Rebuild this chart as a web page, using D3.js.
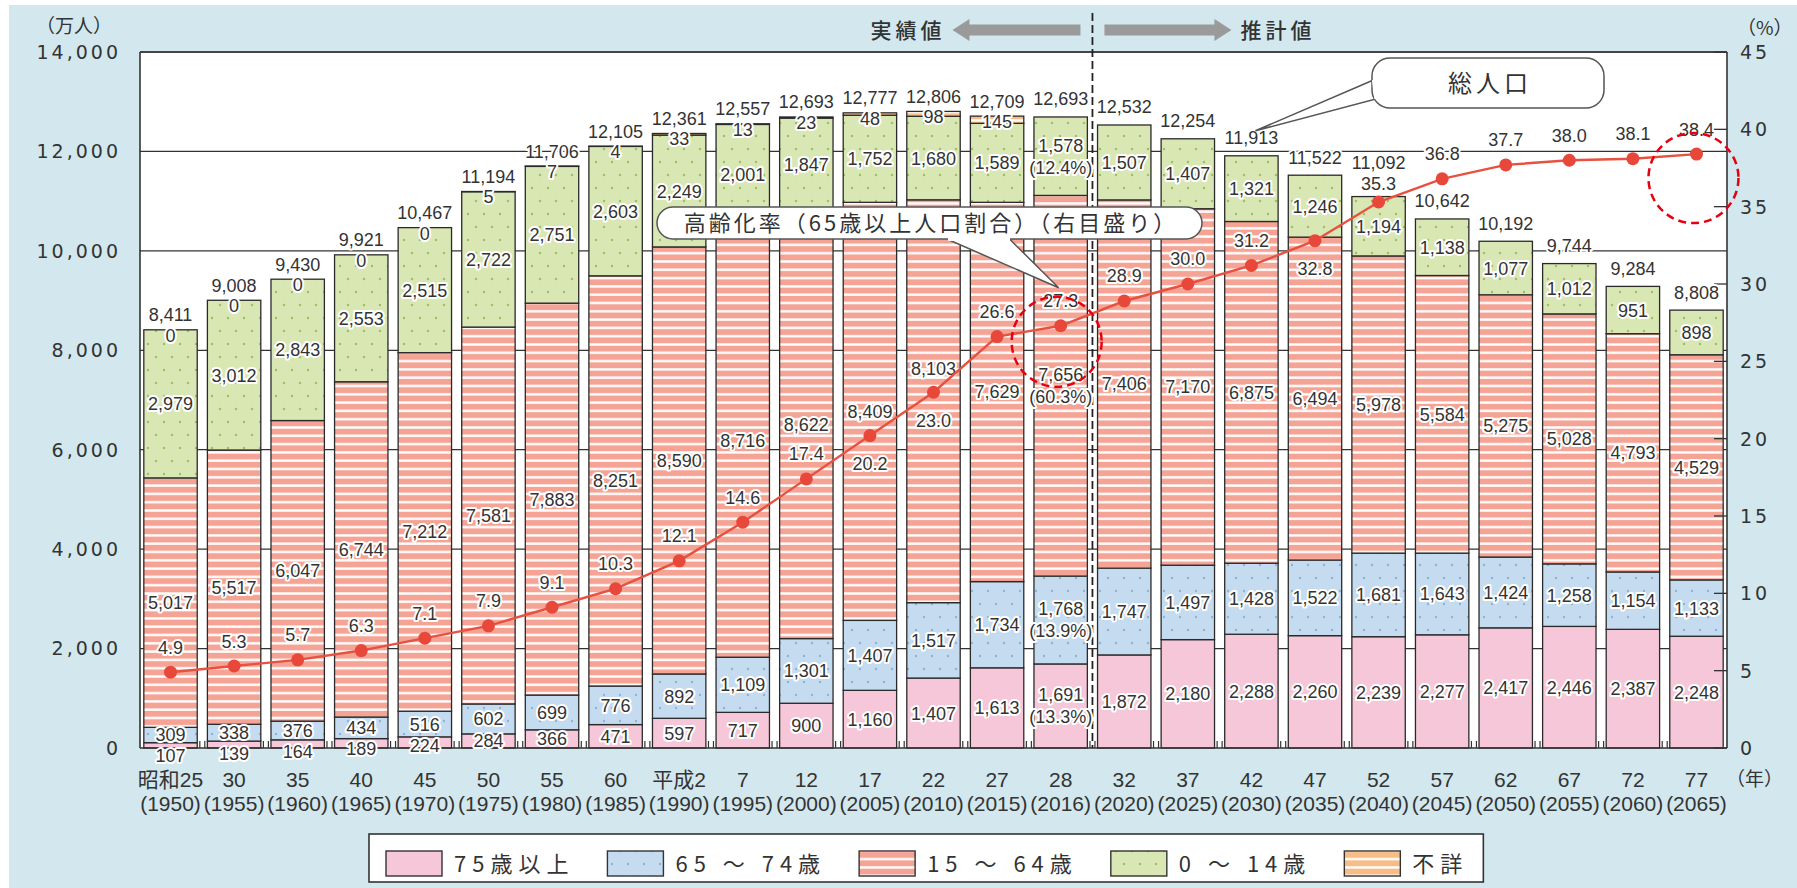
<!DOCTYPE html>
<html lang="ja">
<head>
<meta charset="utf-8">
<script src="https://cdn.jsdelivr.net/npm/d3@7"></script>
<style>
  body { margin: 0; background: #fff; }
  svg { display: block; }
</style>
</head>
<body>
<svg id="chart" width="1797" height="888"></svg>
<script>
// x axis labels: era year (line 1) and western year (line 2)
var eras = ["昭和25","30","35","40","45","50","55","60","平成2","7","12","17","22","27","28",
            "32","37","42","47","52","57","62","67","72","77"];
var years = [1950,1955,1960,1965,1970,1975,1980,1985,1990,1995,2000,2005,2010,2015,2016,
             2020,2025,2030,2035,2040,2045,2050,2055,2060,2065];

// population by age group (万人)
var over75    = [107,139,164,189,224,284,366,471,597,717,900,1160,1407,1613,1691,
                 1872,2180,2288,2260,2239,2277,2417,2446,2387,2248];
var age65to74 = [309,338,376,434,516,602,699,776,892,1109,1301,1407,1517,1734,1768,
                 1747,1497,1428,1522,1681,1643,1424,1258,1154,1133];
var age15to64 = [5017,5517,6047,6744,7212,7581,7883,8251,8590,8716,8622,8409,8103,7629,7656,
                 7406,7170,6875,6494,5978,5584,5275,5028,4793,4529];
var age0to14  = [2979,3012,2843,2553,2515,2722,2751,2603,2249,2001,1847,1752,1680,1589,1578,
                 1507,1407,1321,1246,1194,1138,1077,1012,951,898];
var unknown   = [0,0,0,0,0,5,7,4,33,13,23,48,98,145,null,
                 null,null,null,null,null,null,null,null,null,null];
var totals    = [8411,9008,9430,9921,10467,11194,11706,12105,12361,12557,12693,12777,12806,12709,12693,
                 12532,12254,11913,11522,11092,10642,10192,9744,9284,8808];
// aging rate, % of population 65+ (right axis)
var agingRate = [4.9,5.3,5.7,6.3,7.1,7.9,9.1,10.3,12.1,14.6,17.4,20.2,23.0,26.6,27.3,
                 28.9,30.0,31.2,32.8,35.3,36.8,37.7,38.0,38.1,38.4];
// 2016 shares, in stack order 75+, 65-74, 15-64, 0-14
var share2016 = [13.3, 13.9, 60.3, 12.4];

var leftTicks = [0,2000,4000,6000,8000,10000,12000,14000];
var rightTicks = [0,5,10,15,20,25,30,35,40,45];

var NUM = "'Liberation Sans', Arial, sans-serif";
var AXIS = "'DejaVu Sans', sans-serif";
var JP = "'Noto Sans CJK JP', sans-serif";
var INK = "#333";

var W = 1797, H = 888;
var plot = {left: 140, right: 1727, top: 52, bottom: 748};
var svg = d3.select("#chart");

var x = d3.scaleBand().domain(d3.range(years.length))
    .range([plot.left, plot.right]).paddingInner(0.16).paddingOuter(0.06);
var bw = x.bandwidth();
var xc = function(i){ return x(i) + bw / 2; };
var y = d3.scaleLinear().domain([0, 14000]).range([plot.bottom, plot.top]);
var yR = d3.scaleLinear().domain([0, 45]).range([plot.bottom, plot.top]);
var fmt = d3.format(",");

// patterns
var defs = svg.append("defs");
function stripes(id, base) {
    var p = defs.append("pattern").attr("id", id).attr("patternUnits", "userSpaceOnUse")
        .attr("width", 10).attr("height", 8.3);
    p.append("rect").attr("width", 10).attr("height", 8.3).attr("fill", base);
    p.append("rect").attr("y", 3).attr("width", 10).attr("height", 2.4).attr("fill", "#fff");
}
function dots(id, base, dot) {
    var p = defs.append("pattern").attr("id", id).attr("patternUnits", "userSpaceOnUse")
        .attr("width", 16).attr("height", 26);
    p.append("rect").attr("width", 16).attr("height", 26).attr("fill", base);
    p.append("circle").attr("cx", 4).attr("cy", 6).attr("r", 1.2).attr("fill", dot);
    p.append("circle").attr("cx", 12).attr("cy", 19).attr("r", 1.2).attr("fill", dot);
}
stripes("salmon", "#f4a394");
stripes("orange", "#f8bd86");
dots("blueDots", "#c5dcf0", "#8fb3d6");
dots("greenDots", "#d9e7b4", "#9cbf62");

var fills = {o75: "#f6c7d8", o65: "url(#blueDots)", w15: "url(#salmon)", y0: "url(#greenDots)", unk: "url(#orange)"};

// backgrounds
svg.append("rect").attr("width", W).attr("height", H).attr("fill", "#fff");
svg.append("rect").attr("x", 9).attr("y", 5).attr("width", W - 9).attr("height", H - 5).attr("fill", "#d2e8ee");
svg.append("rect").attr("x", plot.left).attr("y", plot.top)
    .attr("width", plot.right - plot.left).attr("height", plot.bottom - plot.top).attr("fill", "#fff");

// gridlines
svg.append("g").selectAll("line").data(leftTicks.slice(1, -1)).join("line")
    .attr("x1", plot.left).attr("x2", plot.right)
    .attr("y1", function(d){ return y(d); }).attr("y2", function(d){ return y(d); })
    .attr("stroke", "#333").attr("stroke-width", 1.3);

// stacked bars
var keys = ["o75", "o65", "w15", "y0", "unk"];
var rows = years.map(function(yr, i){
    return {i: i, o75: over75[i], o65: age65to74[i], w15: age15to64[i], y0: age0to14[i], unk: unknown[i] || 0};
});
var series = d3.stack().keys(keys)(rows);

svg.append("g").selectAll("g").data(series).join("g")
    .attr("fill", function(s){ return fills[s.key]; })
    .selectAll("rect").data(function(s){ return s.filter(function(d){ return d[1] > d[0]; }); }).join("rect")
    .attr("x", function(d){ return x(d.data.i); })
    .attr("width", bw)
    .attr("y", function(d){ return y(d[1]); })
    .attr("height", function(d){ return y(d[0]) - y(d[1]); })
    .attr("stroke", "#2a2a2a").attr("stroke-width", 1.3);

// plot frame
svg.append("line").attr("x1", plot.left).attr("x2", plot.right).attr("y1", plot.top).attr("y2", plot.top)
    .attr("stroke", "#444").attr("stroke-width", 2.2);
svg.append("line").attr("x1", plot.left).attr("x2", plot.right).attr("y1", plot.bottom).attr("y2", plot.bottom)
    .attr("stroke", "#333").attr("stroke-width", 1.6);
[plot.left, plot.right].forEach(function(px){
    svg.append("line").attr("x1", px).attr("x2", px).attr("y1", plot.top).attr("y2", plot.bottom)
        .attr("stroke", "#333").attr("stroke-width", 1.6);
});
// small ticks in the gaps at the base
d3.range(1, years.length).forEach(function(i){
    var gx = (x(i - 1) + bw + x(i)) / 2;
    [-2.5, 2.5].forEach(function(o){
        svg.append("line").attr("x1", gx + o).attr("x2", gx + o)
            .attr("y1", plot.bottom).attr("y2", plot.bottom - 7)
            .attr("stroke", "#333").attr("stroke-width", 1.2);
    });
});
// right axis ticks
svg.append("g").selectAll("line").data(rightTicks).join("line")
    .attr("x1", plot.right - 13).attr("x2", plot.right)
    .attr("y1", function(d){ return yR(d); }).attr("y2", function(d){ return yR(d); })
    .attr("stroke", "#333").attr("stroke-width", 1.3);

// divider between actual and projected values
var dx = (x(14) + bw + x(15)) / 2;
svg.append("line").attr("x1", dx).attr("x2", dx).attr("y1", 13).attr("y2", plot.bottom)
    .attr("stroke", "#222").attr("stroke-width", 1.8).attr("stroke-dasharray", "8,4");

function halo(g, px, py, str, size) {
    return g.append("text").attr("x", px).attr("y", py).attr("dy", "0.36em")
        .attr("text-anchor", "middle").attr("font-family", NUM).attr("font-size", size || 18)
        .attr("fill", INK).attr("stroke", "#fff").attr("stroke-width", 4)
        .attr("stroke-linejoin", "round").attr("paint-order", "stroke").text(str);
}

// value labels inside segments
var labels = svg.append("g");
var nudge = {2: {12: -33}};
series.slice(0, 4).forEach(function(s, k){
    s.forEach(function(d, i){
        var top = y(d[1]), bot = y(d[0]);
        var cy = (top + bot) / 2;
        if (k === 0) {
            // thin 75+ segments: keep the label clear of the 65-74 label above
            var up = series[1][i];
            cy = Math.max(cy, (y(up[0]) + y(up[1])) / 2 + 21);
        }
        if (nudge[k] && nudge[k][i]) cy += nudge[k][i];
        if (years[i] === 2016) {
            halo(labels, xc(i), cy - 11, fmt(d[1] - d[0]));
            halo(labels, xc(i), cy + 11, "(" + share2016[k] + "%)");
        } else {
            halo(labels, xc(i), cy, fmt(d[1] - d[0]));
        }
    });
});
// unknown-age labels sit on the bar top edge
unknown.forEach(function(v, i){
    if (v === null) return;
    var top = series[4][i][1];
    halo(labels, xc(i), y(top) + 5.5, fmt(v));
});
// totals above the bars
var totalNudge = {2040: -16};
totals.forEach(function(v, i){
    var top = series[4][i][1];
    var off = (unknown[i] === null ? -18 : -15) + (totalNudge[years[i]] || 0);
    halo(labels, xc(i), y(top) + off, fmt(v));
});

// aging rate line
var line = d3.line().x(function(d, i){ return xc(i); }).y(function(d){ return yR(d); });
svg.append("path").datum(agingRate).attr("d", line)
    .attr("fill", "none").attr("stroke", "#e8503f").attr("stroke-width", 2.4);
svg.append("g").selectAll("circle").data(agingRate).join("circle")
    .attr("cx", function(d, i){ return xc(i); }).attr("cy", function(d){ return yR(d); })
    .attr("r", 6.5).attr("fill", "#e8483a");
var rateLabels = svg.append("g");
var below = [2005, 2010, 2035];
var rateNudge = {2040: 6};
agingRate.forEach(function(v, i){
    var off = below.indexOf(years[i]) >= 0 ? 28 : -25;
    off += rateNudge[years[i]] || 0;
    halo(rateLabels, xc(i), yR(v) + off, v.toFixed(1));
});

// callouts
function callout(box, base1, base2, tip, text, size, spacing) {
    var g = svg.append("g");
    g.append("path").attr("d", "M" + base1 + "L" + tip + "L" + base2 + "Z")
        .attr("fill", "#fff").attr("stroke", "#555").attr("stroke-width", 1.5);
    g.append("rect").attr("x", box.x).attr("y", box.y).attr("width", box.w).attr("height", box.h)
        .attr("rx", box.r).attr("fill", "#fff").attr("stroke", "#555").attr("stroke-width", 1.5);
    g.append("path").attr("d", "M" + base1 + "L" + base2)
        .attr("stroke", "#fff").attr("stroke-width", 3.2);
    g.append("text").attr("x", box.x + box.w / 2 + spacing / 2).attr("y", box.y + box.h / 2).attr("dy", "0.36em")
        .attr("text-anchor", "middle").attr("font-family", JP).attr("font-size", size)
        .attr("letter-spacing", spacing).attr("fill", INK).text(text);
}
var i16 = years.indexOf(2016);
callout({x: 657, y: 207, w: 545, h: 32, r: 16},
        [948, 239.5], [1010, 239.5], [xc(i16) - 2, yR(agingRate[i16]) - 38],
        "高齢化率（65歳以上人口割合）（右目盛り）", 22, 3);
var i30 = years.indexOf(2030);
callout({x: 1372, y: 58, w: 232, h: 50, r: 18},
        [1373.5, 80], [1376, 99], [xc(i30) + 4, y(totals[i30]) - 25],
        "総人口", 24, 4);

// red dashed highlight circles
var i65 = years.length - 1;
[[xc(i16) - 4, yR(agingRate[i16]) + 16], [xc(i65) - 3, yR(agingRate[i65]) + 24]].forEach(function(c){
    svg.append("circle").attr("cx", c[0]).attr("cy", c[1]).attr("r", 45)
        .attr("fill", "none").attr("stroke", "#e60012").attr("stroke-width", 2.5)
        .attr("stroke-dasharray", "8,5");
});

// header arrows
var arrowFill = "#9a9a9a";
function arrow(tipX, endX) {
    var s = tipX < endX ? 1 : -1;
    var hb = tipX + s * 17;
    var pts = [[tipX, 30], [hb, 19], [hb, 24.5], [endX, 24.5], [endX, 35.5], [hb, 35.5], [hb, 41]];
    svg.append("polygon").attr("points", pts.map(function(p){ return p.join(","); }).join(" "))
        .attr("fill", arrowFill);
}
arrow(dx - 140, dx - 12);
arrow(dx + 139, dx + 12);
svg.append("text").attr("x", dx - 147).attr("y", 30).attr("dy", "0.36em").attr("text-anchor", "end")
    .attr("font-family", JP).attr("font-size", 21).attr("letter-spacing", 4).attr("font-weight", 500)
    .attr("fill", INK).text("実績値");
svg.append("text").attr("x", dx + 148).attr("y", 30).attr("dy", "0.36em")
    .attr("font-family", JP).attr("font-size", 21).attr("letter-spacing", 4).attr("font-weight", 500)
    .attr("fill", INK).text("推計値");

// axes labels
svg.append("g").selectAll("text").data(leftTicks).join("text")
    .attr("x", 121).attr("y", function(d){ return y(d); }).attr("dy", "0.36em")
    .attr("text-anchor", "end").attr("font-family", AXIS).attr("font-size", 19)
    .attr("letter-spacing", 3).attr("fill", INK).text(fmt);
svg.append("g").selectAll("text").data(rightTicks).join("text")
    .attr("x", 1740).attr("y", function(d){ return yR(d); }).attr("dy", "0.36em")
    .attr("font-family", AXIS).attr("font-size", 19)
    .attr("letter-spacing", 3).attr("fill", INK).text(function(d){ return d; });
svg.append("text").attr("x", 36).attr("y", 26).attr("dy", "0.36em").attr("font-family", JP)
    .attr("font-size", 19).attr("fill", INK).text("（万人）");
svg.append("text").attr("x", 1737).attr("y", 28).attr("dy", "0.36em").attr("font-family", JP)
    .attr("font-size", 19).attr("fill", INK).text("（%）");
svg.append("text").attr("x", 1726).attr("y", 779).attr("dy", "0.36em").attr("font-family", JP)
    .attr("font-size", 19).attr("fill", INK).text("（年）");

var xl = svg.append("g").attr("font-family", NUM + ", " + JP).attr("font-size", 21)
    .attr("fill", INK).attr("text-anchor", "middle");
eras.forEach(function(e, i){
    xl.append("text").attr("x", xc(i)).attr("y", 779).attr("dy", "0.36em").text(e);
    xl.append("text").attr("x", xc(i)).attr("y", 803).attr("dy", "0.36em").text("(" + years[i] + ")");
});

// legend
var legendItems = [
    {label: "75歳以上", fill: fills.o75},
    {label: "65 ～ 74歳", fill: fills.o65},
    {label: "15 ～ 64歳", fill: fills.w15},
    {label: "0 ～ 14歳", fill: fills.y0},
    {label: "不詳", fill: fills.unk}
];
var lg = svg.append("g");
var lbox = lg.append("rect").attr("x", 369).attr("y", 834).attr("height", 48)
    .attr("fill", "#fff").attr("stroke", "#333").attr("stroke-width", 1.6);
var lx = 386;
legendItems.forEach(function(it){
    lg.append("rect").attr("x", lx).attr("y", 851).attr("width", 56).attr("height", 25)
        .attr("fill", it.fill).attr("stroke", "#333").attr("stroke-width", 1.4);
    var t = lg.append("text").attr("x", lx + 68).attr("y", 864).attr("dy", "0.36em")
        .attr("font-family", JP).attr("font-size", 22).attr("letter-spacing", 6)
        .attr("fill", INK).text(it.label);
    lx = lx + 68 + t.node().getComputedTextLength() + 33;
});
lbox.attr("width", lx - 33 + 15 - 369);
</script>
</body>
</html>
